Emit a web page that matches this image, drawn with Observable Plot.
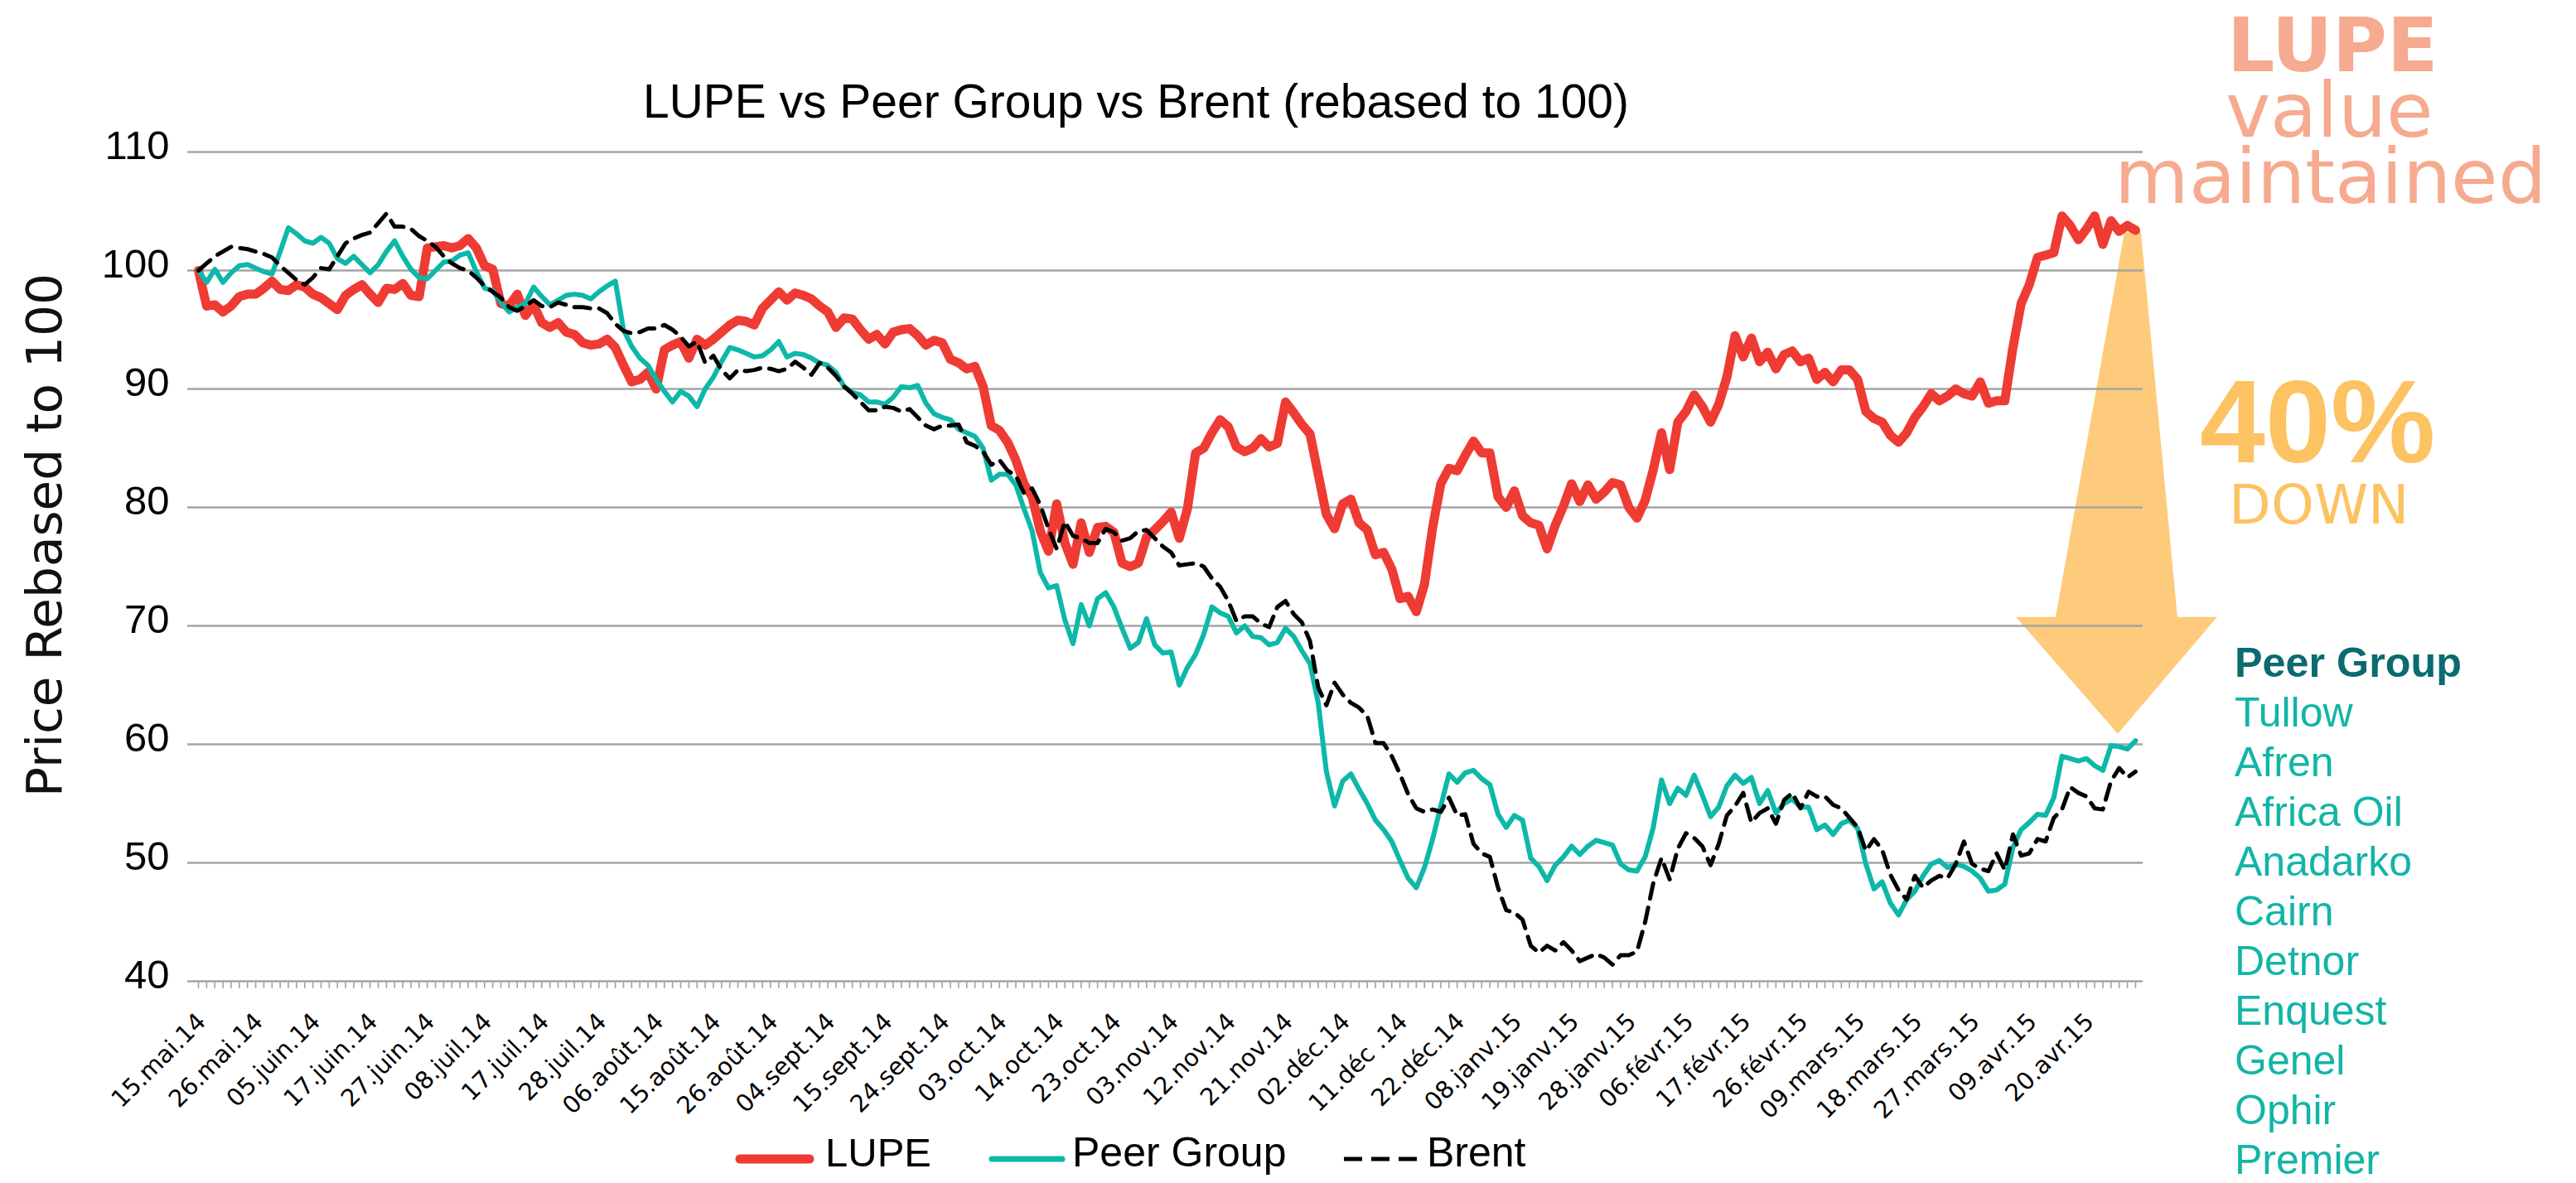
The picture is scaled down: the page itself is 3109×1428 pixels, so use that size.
<!DOCTYPE html>
<html><head><meta charset="utf-8">
<script src="https://cdn.jsdelivr.net/npm/d3@7"></script>
<script src="https://cdn.jsdelivr.net/npm/@observablehq/plot@0.6"></script>
<style>
@font-face { font-family: "GeoTight"; font-weight: normal; src: local("DejaVu Sans"), local("DejaVuSans"); ascent-override: 78%; descent-override: 6%; line-gap-override: 0%; }
@font-face { font-family: "GeoTight"; font-weight: bold; src: local("DejaVu Sans Bold"), local("DejaVuSans-Bold"); ascent-override: 78%; descent-override: 6%; line-gap-override: 0%; }
@font-face { font-family: "ArialTight"; font-weight: bold; src: local("Liberation Sans Bold"), local("LiberationSans-Bold"); ascent-override: 78%; descent-override: 6%; line-gap-override: 0%; }
html,body{margin:0;padding:0;background:#fff;}
#wrap{position:relative;width:3109px;height:1428px;overflow:hidden;background:#fff;}
#wrap svg{position:absolute;left:0;top:0;}
</style></head>
<body><div id="wrap"></div>
<script>
// ---------- data ----------
const dateLabels = ["15.mai.14","26.mai.14","05.juin.14","17.juin.14","27.juin.14","08.juil.14","17.juil.14","28.juil.14","06.août.14","15.août.14","26.août.14","04.sept.14","15.sept.14","24.sept.14","03.oct.14","14.oct.14","23.oct.14","03.nov.14","12.nov.14","21.nov.14","02.déc.14","11.déc .14","22.déc.14","08.janv.15","19.janv.15","28.janv.15","06.févr.15","17.févr.15","26.févr.15","09.mars.15","18.mars.15","27.mars.15","09.avr.15","20.avr.15"];
const labelStep = 7;
const yTicks = [40,50,60,70,80,90,100,110];

const lupe = [
100,97.0,97.1,96.5,97.0,97.8,98.0,98.0,98.5,99.1,
98.4,98.3,98.8,98.6,98.0,97.7,97.2,96.7,97.9,98.4,
98.8,98.0,97.3,98.5,98.4,98.9,97.9,97.8,101.9,102.0,
102.1,101.9,102.1,102.7,101.9,100.4,100.1,97.2,97.0,98.0,
96.2,97.1,95.6,95.2,95.6,94.8,94.6,93.9,93.7,93.8,
94.2,93.5,92.0,90.6,90.8,91.4,90.0,93.3,93.7,94.0,
92.6,94.2,93.7,94.2,94.8,95.4,95.8,95.7,95.4,96.8,
97.5,98.2,97.5,98.1,97.9,97.6,97.0,96.5,95.2,96.0,
95.9,95.0,94.2,94.6,93.8,94.8,95.0,95.1,94.5,93.7,
94.1,93.9,92.5,92.2,91.7,91.9,90.2,86.9,86.5,85.5,
84.0,82.0,80.9,78.0,76.3,80.3,77.0,75.2,78.7,76.2,
78.3,78.4,77.9,75.3,75.0,75.3,77.5,78.1,78.8,79.6,
77.4,79.9,84.6,85.0,86.3,87.4,86.8,85.1,84.7,85.0,
85.8,85.1,85.4,88.9,88.0,87.0,86.2,82.8,79.4,78.2,
80.3,80.7,78.7,78.1,76.0,76.2,74.8,72.3,72.5,71.2,
73.5,78.3,82.0,83.3,83.1,84.4,85.6,84.6,84.6,80.9,
80.0,81.4,79.3,78.7,78.5,76.5,78.5,80.1,82.0,80.5,
81.9,80.7,81.3,82.1,81.9,80.0,79.1,80.6,83.2,86.3,
83.2,87.2,88.1,89.5,88.5,87.2,88.7,91.0,94.5,92.7,
94.3,92.3,93.1,91.7,92.9,93.2,92.3,92.6,90.8,91.4,
90.6,91.6,91.6,90.8,88.1,87.5,87.2,86.1,85.5,86.3,
87.6,88.5,89.6,89.0,89.4,90.0,89.6,89.4,90.6,88.8,
89.0,89.0,93.5,97.2,98.8,101.1,101.3,101.5,104.6,103.8,
102.6,103.5,104.6,102.2,104.2,103.3,103.8,103.4];

const peer = [
100,99.0,100.1,99.0,99.8,100.4,100.5,100.2,99.9,99.7,
101.6,103.6,103.1,102.5,102.3,102.8,102.3,101.0,100.6,101.2,
100.5,99.8,100.5,101.6,102.5,101.2,100.1,99.4,99.3,100.0,
100.7,100.8,101.3,101.5,99.9,98.5,98.3,97.3,96.5,96.9,
97.2,98.6,97.8,97.1,97.5,97.9,98.0,97.9,97.6,98.2,
98.7,99.1,95.0,93.6,92.6,92.0,90.8,89.8,88.9,89.8,
89.4,88.5,90.0,91.0,92.3,93.5,93.3,93.0,92.7,92.8,
93.3,94.0,92.7,93.0,92.9,92.6,92.2,92.0,91.4,90.2,
89.7,89.5,88.9,88.9,88.7,89.3,90.2,90.1,90.3,88.8,
87.9,87.6,87.4,86.6,86.3,86.0,85.0,82.3,82.8,82.8,
81.9,79.9,78.0,74.5,73.2,73.4,70.5,68.5,71.8,70.0,
72.3,72.8,71.6,69.8,68.1,68.6,70.6,68.4,67.7,67.8,
65.0,66.5,67.6,69.3,71.6,71.1,70.8,69.4,70.0,69.1,
69.0,68.4,68.6,69.8,69.1,67.9,66.8,63.5,57.7,54.8,
56.9,57.5,56.2,55.0,53.6,52.8,51.8,50.2,48.7,47.9,
49.6,52.0,54.8,57.5,56.8,57.6,57.8,57.1,56.6,54.1,
53.0,54.0,53.6,50.4,49.7,48.5,49.8,50.5,51.4,50.7,
51.4,51.9,51.7,51.5,49.9,49.4,49.3,50.5,53.0,57.0,
55.0,56.3,55.7,57.4,55.7,53.9,54.7,56.5,57.4,56.7,
57.2,55.0,56.1,54.2,55.0,55.4,54.7,54.7,52.8,53.2,
52.4,53.3,53.6,52.9,49.9,47.8,48.4,46.6,45.6,46.9,
47.6,48.9,49.9,50.2,49.6,49.9,49.7,49.3,48.7,47.6,
47.7,48.2,51.3,52.8,53.4,54.1,54.0,55.5,59.0,58.8,
58.6,58.8,58.2,57.8,59.9,59.8,59.6,60.3];

const brent = [
100,100.6,101.2,101.6,102.0,101.9,101.8,101.6,101.4,101.1,
100.4,99.8,99.2,98.8,99.4,100.2,100.1,101.2,102.3,102.7,
103.0,103.2,104.0,104.8,103.7,103.7,103.5,102.9,102.5,102.0,
101.2,100.6,100.2,100.0,99.4,98.7,98.2,97.7,96.9,96.6,
97.0,97.5,97.0,96.9,97.3,97.1,96.9,96.9,96.8,96.8,
96.4,95.5,94.9,94.7,94.8,95.1,95.1,95.4,95.0,94.4,
93.6,94.0,92.2,92.8,91.6,90.9,91.6,91.5,91.6,91.8,
91.7,91.5,91.7,92.3,91.8,91.2,92.2,91.8,91.1,90.2,
89.6,88.9,88.2,88.2,88.5,88.4,88.1,88.3,87.6,86.9,
86.6,86.9,86.9,87.0,85.5,85.2,84.7,83.6,84.0,83.1,
82.7,81.2,81.6,80.2,78.2,76.5,78.8,77.6,77.4,77.0,
77.0,78.2,77.9,77.2,77.4,78.0,78.1,77.4,76.7,76.2,
75.1,75.2,75.3,75.0,74.0,73.3,72.1,70.4,70.8,70.8,
70.2,69.9,71.6,72.1,71.0,70.3,68.7,64.8,63.3,65.2,
64.2,63.5,63.1,62.4,60.1,60.1,59.0,57.5,55.8,54.6,
54.3,54.5,54.3,55.5,54.0,54.1,51.6,50.8,50.5,47.9,
46.0,45.8,45.2,43.0,42.4,43.0,42.6,43.3,42.6,41.7,
42.0,42.3,42.0,41.4,42.2,42.2,42.5,45.0,48.3,50.4,
48.6,51.2,52.5,52.1,51.4,49.8,51.6,54.0,54.8,55.9,
53.4,54.2,54.6,53.3,55.3,55.9,54.6,56.0,55.6,55.6,
54.9,54.6,53.8,53.0,51.0,52.0,51.1,49.0,47.7,46.9,
48.9,47.9,48.5,48.9,48.7,49.9,51.8,49.9,49.5,49.3,
50.8,49.4,52.4,50.6,50.8,52.0,51.8,53.8,54.5,56.4,
55.9,55.6,54.6,54.5,56.9,58.0,57.2,57.7];

const seriesNames = ["LUPE","Peer Group","Brent"];
const peerGroupMembers = ["Tullow","Afren","Africa Oil","Anadarko","Cairn","Detnor","Enquest","Genel","Ophir","Premier"];

// ---------- styles ----------
const W = 3109, H = 1428;
const RED = "#EE3B33", TEAL = "#0DB8A9", GRID = "#A4A4A4";
const fontArial = "'Liberation Sans', Arial, sans-serif";
const fontGeo = "'DejaVu Sans', sans-serif";
const fontGeoTight = "GeoTight, 'DejaVu Sans', sans-serif";
const fontArialTight = "ArialTight, 'Liberation Sans', Arial, sans-serif";

const n = lupe.length;
const idx = d3.range(n);
const labelIdx = dateLabels.map((_, k) => k * labelStep);

const chart = Plot.plot({
  width: W, height: H,
  marginTop: 183, marginBottom: 244, marginLeft: 226, marginRight: 523,
  style: {background: "transparent", fontFamily: fontArial, color: "#000", overflow: "visible"},
  x: {type: "linear", domain: [-1.32, 237.92]},
  y: {type: "linear", domain: [40, 110]},
  marks: [
    Plot.ruleY(yTicks, {stroke: GRID, strokeWidth: 2.5}),
    Plot.axisY(yTicks, {tickSize: 0, tickPadding: 22, fontSize: 49, dy: -7, label: null, fontFamily: fontArial}),
    Plot.axisX(idx, {tickSize: 9, tickFormat: () => "", stroke: GRID, strokeWidth: 1.6, label: null}),
    Plot.text(labelIdx, {x: d => d, frameAnchor: "bottom", text: (d, i) => dateLabels[i],
      rotate: -45, textAnchor: "end", lineAnchor: "middle", dx: 4, dy: 44,
      fontSize: 29, fontFamily: fontGeo, fill: "#000"}),
    Plot.line(idx, {x: d => d, y: d => lupe[d], stroke: RED, strokeWidth: 11, strokeLinejoin: "round", strokeLinecap: "round"}),
    Plot.line(idx, {x: d => d, y: d => peer[d], stroke: TEAL, strokeWidth: 6, strokeLinejoin: "round", strokeLinecap: "round"}),
    Plot.line(idx, {x: d => d, y: d => brent[d], stroke: "#000", strokeWidth: 5, strokeDasharray: "19,11", strokeLinejoin: "round"})
  ]
});

const wrap = document.getElementById("wrap");
wrap.appendChild(chart);

// ---------- arrow (behind chart) ----------
const xs = chart.scale("x"), ys = chart.scale("y");
const xe = xs.apply(n - 1);
const yTop = ys.apply(lupe[n - 1]) + 3;
const yTip = ys.apply(peer[n - 1]) - 8;
const yBar = yTop + 0.767 * (yTip - yTop);
const arrowPts = [[xe-13,yTop],[xe+7,yTop],[xe+51,yBar],[xe+99,yBar],[xe-21,yTip],[xe-144,yBar],[xe-96,yBar]];
const arrowSvg = d3.create("svg").attr("width", W).attr("height", H);
arrowSvg.append("polygon").attr("points", arrowPts.map(p => p.join(",")).join(" ")).attr("fill", "#FDCB7B");
wrap.insertBefore(arrowSvg.node(), chart);

// ---------- overlay texts ----------
const over = d3.select(wrap).append("svg").attr("width", W).attr("height", H);
function txt(x, y, s, o = {}) {
  const t = over.append("text").attr("x", x).attr("y", y).text(s)
    .attr("font-family", o.font || fontArial).attr("font-size", o.size || 50)
    .attr("fill", o.fill || "#000").attr("text-anchor", o.anchor || "start");
  if (o.weight) t.attr("font-weight", o.weight);
  if (o.len) t.attr("textLength", o.len).attr("lengthAdjust", "spacingAndGlyphs");
  return t;
}

// title
txt(1371, 142, "LUPE vs Peer Group vs Brent (rebased to 100)", {size: 57, anchor: "middle", len: 1190});
// y axis title
over.append("text").attr("transform", "translate(74,646) rotate(-90)")
  .attr("text-anchor", "middle").attr("font-family", fontGeo).attr("font-size", 58)
  .attr("fill", "#111").attr("textLength", 632).attr("lengthAdjust", "spacingAndGlyphs")
  .text("Price Rebased to 100");

// legend
const ly = 1399, lb = 1408;
over.append("line").attr("x1", 893).attr("x2", 977).attr("y1", ly).attr("y2", ly)
  .attr("stroke", RED).attr("stroke-width", 11).attr("stroke-linecap", "round");
txt(996, lb, seriesNames[0], {size: 49});
over.append("line").attr("x1", 1197).attr("x2", 1282).attr("y1", ly).attr("y2", ly)
  .attr("stroke", TEAL).attr("stroke-width", 7).attr("stroke-linecap", "round");
txt(1294, lb, seriesNames[1], {size: 50});
over.append("line").attr("x1", 1622).attr("x2", 1710).attr("y1", ly).attr("y2", ly)
  .attr("stroke", "#000").attr("stroke-width", 5).attr("stroke-dasharray", "22,11");
txt(1722, lb, seriesNames[2], {size: 50});

// right annotations
const SALMON = "#F6AA8F", GOLD = "#FDC262";
txt(2815, 86, "LUPE", {font: fontGeoTight, size: 90, weight: "bold", fill: SALMON, anchor: "middle"});
txt(2811, 165, "value", {font: fontGeoTight, size: 92, fill: SALMON, anchor: "middle"});
txt(2812, 245, "maintained", {font: fontGeoTight, size: 92, fill: SALMON, anchor: "middle"});
txt(2797, 558, "40%", {font: fontArialTight, size: 142, weight: "bold", fill: GOLD, anchor: "middle"});
txt(2798, 632, "DOWN", {font: fontGeoTight, size: 66, fill: GOLD, anchor: "middle"});

txt(2697, 817, "Peer Group", {size: 50, weight: "bold", fill: "#0B6B6E", len: 274});
peerGroupMembers.forEach((m, k) => txt(2697, 877 + 60 * k, m, {size: 50, fill: "#12B5A6"}));
</script>
</body></html>
